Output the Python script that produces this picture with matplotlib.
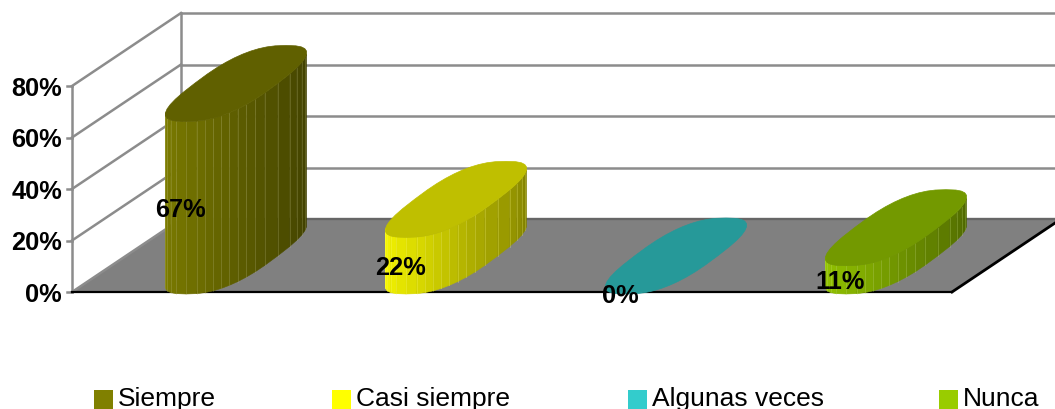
import matplotlib
matplotlib.use('Agg')
import matplotlib.pyplot as plt
import matplotlib.colors as mcolors
from matplotlib.patches import Polygon, Rectangle
import numpy as np

categories = ['Siempre', 'Casi siempre', 'Algunas veces', 'Nunca']
values = [67, 22, 0, 11]
value_labels = ['67%', '22%', '0%', '11%']
colors = ['#808000', '#ffff00', '#33cccc', '#99cc00']
ticks = [0, 20, 40, 60, 80]
tick_labels = ['0%', '20%', '40%', '60%', '80%']

# the picture is laid out in pixels, y going down
W, H = 1055, 410
X0, Y0 = 72, 293          # front left corner of the floor
FLOOR_W = 880
DEPTH_X, DEPTH_Y = 109, 73
PX_PER_UNIT = 51.5 / 20
GRID = '#8c8c8c'
FONT = 'Liberation Sans'


def y_of(v):
    return Y0 - v * PX_PER_UNIT


def outline(n=40):
    # rounded lozenge lying on the floor, sheared by the depth direction,
    # offsets from the centre, starting at the leftmost point
    t = np.linspace(0, 2 * np.pi, n, endpoint=False)
    u = np.sign(np.cos(t)) * np.abs(np.cos(t)) ** 0.75
    v = np.sign(np.sin(t)) * np.abs(np.sin(t)) ** 0.75
    dx = 41.5 * u + 50 * v
    dy = -38 * v
    start = np.argmin(dx)
    return np.roll(dx, -start), np.roll(dy, -start)


def draw_cylinder(ax, cx, value, color):
    base = np.array(mcolors.to_rgb(color))
    cy_bottom = Y0 - 36
    cy_top = cy_bottom - value * PX_PER_UNIT
    dx, dy = outline()

    # front part of the outline goes from leftmost to rightmost point
    end = np.argmax(dx)
    if value > 0:
        for i in range(end):
            x1, x2 = cx + dx[i], cx + dx[i + 1]
            shade = base * (1 - 0.5 * i / (end - 1))
            ax.add_patch(Polygon([(x1, cy_bottom + dy[i]), (x2, cy_bottom + dy[i + 1]),
                                  (x2, cy_top + dy[i + 1]), (x1, cy_top + dy[i])],
                                 facecolor=shade, edgecolor=shade, lw=0.4, zorder=4))
            if i > 0:
                ax.plot([x1, x1], [cy_bottom + dy[i], cy_top + dy[i]],
                        color=base * 0.5 + 0.5, alpha=0.25, lw=0.7, zorder=4)

    top = base * 0.75
    ax.add_patch(Polygon(np.column_stack([cx + dx, cy_top + dy]), facecolor=top,
                         edgecolor=top, lw=0.5, zorder=5))


fig = plt.figure(figsize=(W / 100, H / 100), dpi=100)
ax = fig.add_axes([0, 0, 1, 1])
ax.set_xlim(0, W)
ax.set_ylim(H, 0)
ax.axis('off')

# floor
ax.add_patch(Polygon([(X0, Y0), (X0 + FLOOR_W, Y0),
                      (X0 + FLOOR_W + DEPTH_X, Y0 - DEPTH_Y), (X0 + DEPTH_X, Y0 - DEPTH_Y)],
                     facecolor='#808080', edgecolor='none', zorder=1))
ax.plot([X0 + DEPTH_X, W], [Y0 - DEPTH_Y] * 2, color='#666666', lw=1.7, zorder=2)
ax.plot([X0, X0 + FLOOR_W], [Y0, Y0], color='black', lw=1.6, zorder=3)
ax.plot([X0 + FLOOR_W, X0 + FLOOR_W + DEPTH_X], [Y0, Y0 - DEPTH_Y], color='black',
        lw=2, zorder=3)

# walls and grid
ax.plot([X0, X0], [y_of(ticks[0]), y_of(ticks[-1])], color=GRID, lw=1.8, zorder=2)
ax.plot([X0 + DEPTH_X] * 2, [y_of(ticks[0]) - DEPTH_Y, y_of(ticks[-1]) - DEPTH_Y],
        color=GRID, lw=1.8, zorder=2)
for tick, label in zip(ticks, tick_labels):
    y = y_of(tick)
    ax.plot([X0 - 5, X0], [y, y], color=GRID, lw=1.8, zorder=2)
    ax.plot([X0, X0 + DEPTH_X], [y, y - DEPTH_Y], color=GRID, lw=1.8, zorder=2)
    if tick > 0:
        ax.plot([X0 + DEPTH_X, W], [y - DEPTH_Y] * 2, color=GRID, lw=1.8, zorder=2)
    ax.text(62, y + 2, label, ha='right', va='center', fontsize=18.3, fontweight='bold',
            family=FONT, zorder=7)

# cylinders, one per category
slot = FLOOR_W / len(categories)
for i, value in enumerate(values):
    u = X0 + slot * (i + 0.5)
    draw_cylinder(ax, u + DEPTH_X / 2 - 0.5, value, colors[i])
    ax.text(u - 2, y_of(value / 2) + 3, value_labels[i], ha='center', va='center',
            fontsize=18.3, fontweight='bold', family=FONT, zorder=8)

# legend
key_x = [94, 332, 628, 939]
for x, name, color in zip(key_x, categories, colors):
    ax.add_patch(Rectangle((x, 391), 19, 19, facecolor=color, edgecolor='none', zorder=6))
    ax.text(x + 24, 399, name, ha='left', va='center', fontsize=19, family=FONT, zorder=7)

fig.savefig('out.png', dpi=100)
